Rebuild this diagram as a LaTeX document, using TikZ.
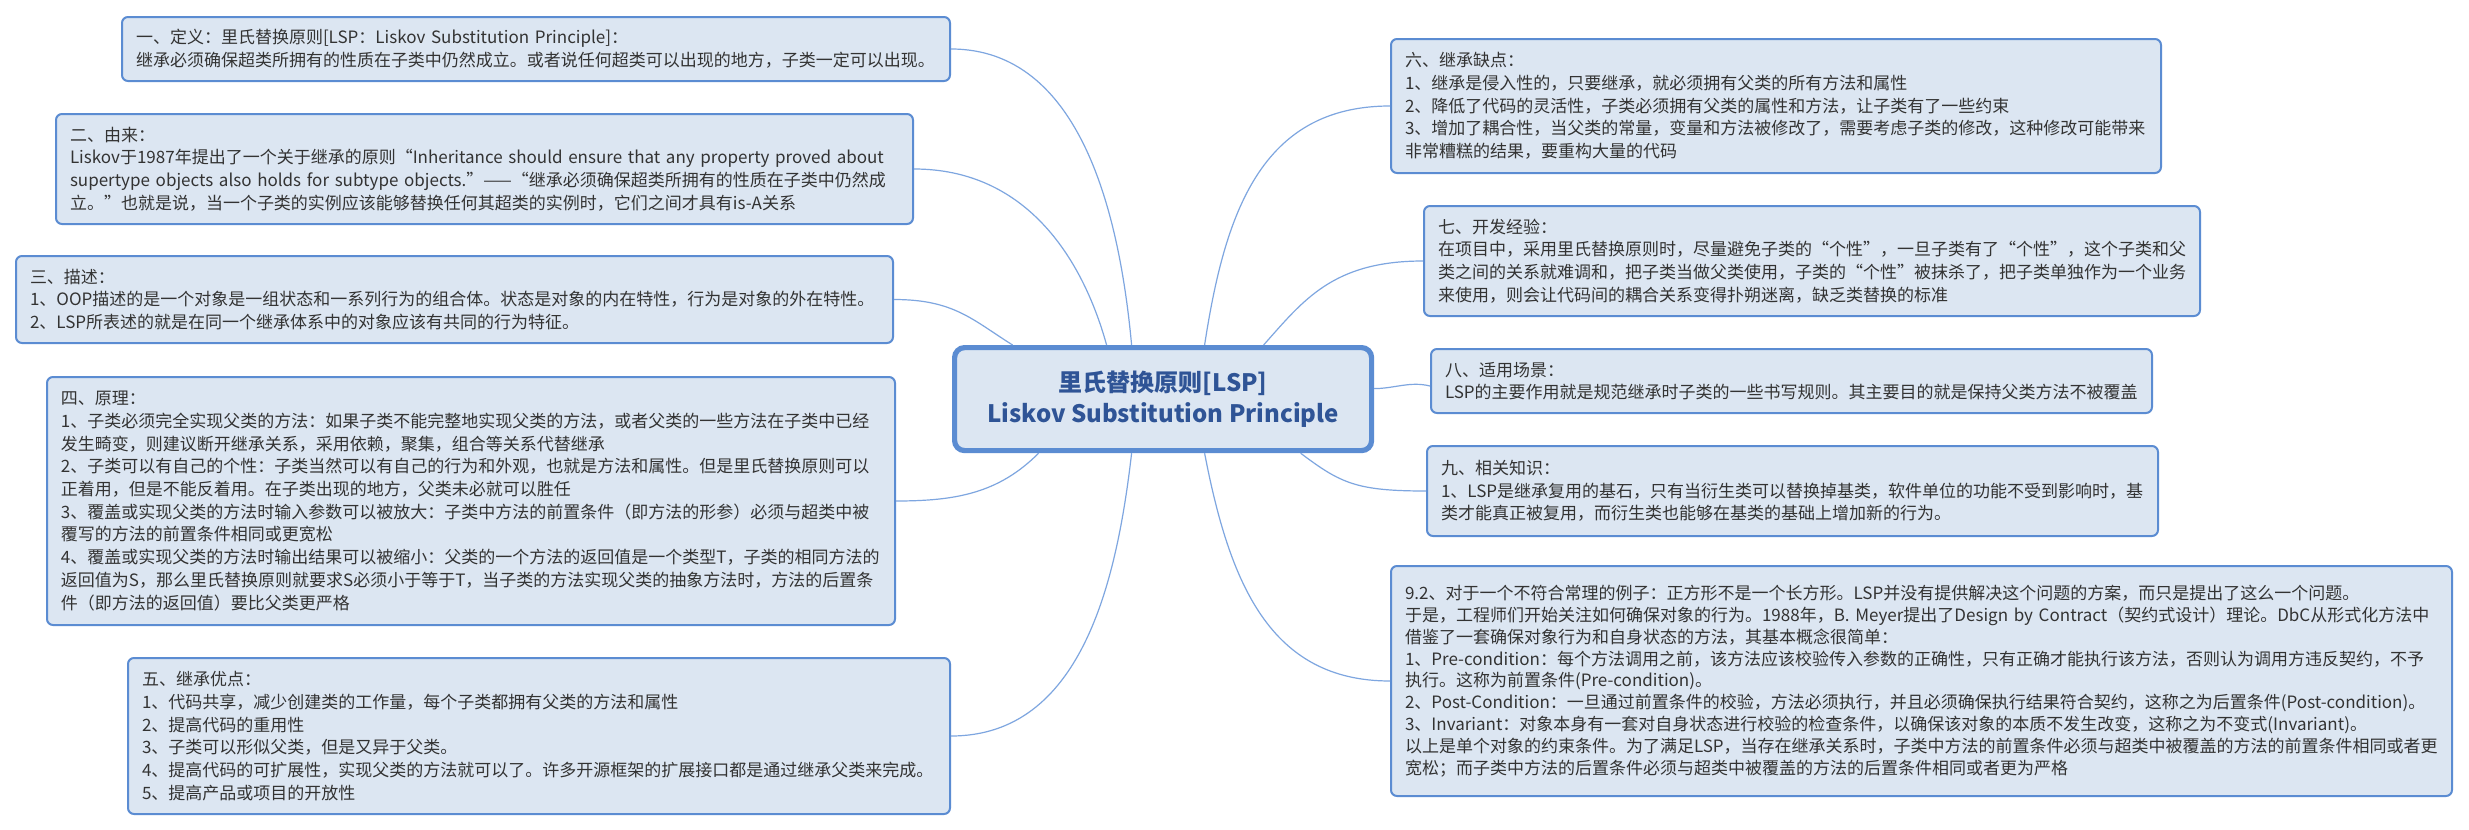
\documentclass[tikz,border=0pt]{standalone}
\usepackage{fontspec}
\setmainfont{Noto Sans CJK SC}
\usetikzlibrary{calc}
\definecolor{boxfill}{HTML}{DCE6F2}
\definecolor{boxline}{HTML}{5B8CD2}
\definecolor{conn}{HTML}{7EA6E0}
\definecolor{txt}{HTML}{333333}
\definecolor{ctxt}{HTML}{2F5496}
\begin{document}
\begin{tikzpicture}[x=0.5pt,y=-0.5pt,
  box/.style={draw=boxline, line width=1pt, fill=boxfill, rounded corners=3pt,
    inner xsep=7pt, inner ysep=0pt, align=left, text=txt, anchor=north west,
    font=\fontsize{8.5pt}{11.35pt}\selectfont},
  mainbox/.style={draw=boxline, line width=2.6pt, fill=boxfill, rounded corners=5pt,
    inner sep=0pt, align=center, text=ctxt, anchor=north west,
    font=\bfseries\fontsize{12pt}{15.5pt}\selectfont},
  link/.style={draw=conn, line width=0.6pt}]
\useasboundingbox (0,0) rectangle (2469,830);
\fill[white] (0,0) rectangle (2469,830);

\node[mainbox, minimum width=208.5pt, minimum height=51.5pt] (c) at (952,345)
  {里氏替换原则[LSP]\\Liskov Substitution Principle};

\node[box, minimum width=414pt, minimum height=32pt, text width=400pt] (b1) at (121,16)
  {一、定义：里氏替换原则[LSP：Liskov Substitution Principle]：\\
   继承必须确保超类所拥有的性质在子类中仍然成立。或者说任何超类可以出现的地方，子类一定可以出现。};

\node[box, minimum width=428.5pt, minimum height=55pt, text width=414.5pt] (b2) at (55,113)
  {二、由来：\\
   Liskov于1987年提出了一个关于继承的原则“Inheritance should ensure that any property proved about\\
   supertype objects also holds for subtype objects.”——“继承必须确保超类所拥有的性质在子类中仍然成\\
   立。”也就是说，当一个子类的实例应该能够替换任何其超类的实例时，它们之间才具有is-A关系};

\node[box, minimum width=438.5pt, minimum height=43.5pt, text width=424.5pt] (b3) at (15,255)
  {三、描述：\\
   1、OOP描述的是一个对象是一组状态和一系列行为的组合体。状态是对象的内在特性，行为是对象的外在特性。\\
   2、LSP所表述的就是在同一个继承体系中的对象应该有共同的行为特征。};

\node[box, minimum width=424pt, minimum height=124pt, text width=410pt] (b4) at (46,376)
  {四、原理：\\
   1、子类必须完全实现父类的方法：如果子类不能完整地实现父类的方法，或者父类的一些方法在子类中已经\\
   发生畸变，则建议断开继承关系，采用依赖，聚集，组合等关系代替继承\\
   2、子类可以有自己的个性：子类当然可以有自己的行为和外观，也就是方法和属性。但是里氏替换原则可以\\
   正着用，但是不能反着用。在子类出现的地方，父类未必就可以胜任\\
   3、覆盖或实现父类的方法时输入参数可以被放大：子类中方法的前置条件（即方法的形参）必须与超类中被\\
   覆写的方法的前置条件相同或更宽松\\
   4、覆盖或实现父类的方法时输出结果可以被缩小：父类的一个方法的返回值是一个类型T，子类的相同方法的\\
   返回值为S，那么里氏替换原则就要求S必须小于等于T，当子类的方法实现父类的抽象方法时，方法的后置条\\
   件（即方法的返回值）要比父类更严格};

\node[box, minimum width=411pt, minimum height=78pt, text width=397pt] (b5) at (127,657)
  {五、继承优点：\\
   1、代码共享，减少创建类的工作量，每个子类都拥有父类的方法和属性\\
   2、提高代码的重用性\\
   3、子类可以形似父类，但是又异于父类。\\
   4、提高代码的可扩展性，实现父类的方法就可以了。许多开源框架的扩展接口都是通过继承父类来完成。\\
   5、提高产品或项目的开放性};

\node[box, minimum width=385pt, minimum height=67pt, text width=371pt] (b6) at (1390,38)
  {六、继承缺点：\\
   1、继承是侵入性的，只要继承，就必须拥有父类的所有方法和属性\\
   2、降低了代码的灵活性，子类必须拥有父类的属性和方法，让子类有了一些约束\\
   3、增加了耦合性，当父类的常量，变量和方法被修改了，需要考虑子类的修改，这种修改可能带来\\
   非常糟糕的结果，要重构大量的代码};

\node[box, minimum width=388pt, minimum height=55pt, text width=374pt] (b7) at (1423,205)
  {七、开发经验：\\
   在项目中，采用里氏替换原则时，尽量避免子类的“个性”，一旦子类有了“个性”，这个子类和父\\
   类之间的关系就难调和，把子类当做父类使用，子类的“个性”被抹杀了，把子类单独作为一个业务\\
   来使用，则会让代码间的耦合关系变得扑朔迷离，缺乏类替换的标准};

\node[box, minimum width=360.5pt, minimum height=32pt, text width=346.5pt] (b8) at (1430,348)
  {八、适用场景：\\
   LSP的主要作用就是规范继承时子类的一些书写规则。其主要目的就是保持父类方法不被覆盖};

\node[box, minimum width=365.5pt, minimum height=45pt, text width=351.5pt] (b9) at (1426,445)
  {九、相关知识：\\
   1、LSP是继承复用的基石，只有当衍生类可以替换掉基类，软件单位的功能不受到影响时，基\\
   类才能真正被复用，而衍生类也能够在基类的基础上增加新的行为。};

\node[box, minimum width=530.5pt, minimum height=115pt, text width=516.5pt,
      font=\fontsize{8.5pt}{10.9pt}\selectfont] (b10) at (1390,565)
  {9.2、对于一个不符合常理的例子：正方形不是一个长方形。LSP并没有提供解决这个问题的方案，而只是提出了这么一个问题。\\
   于是，工程师们开始关注如何确保对象的行为。1988年，B. Meyer提出了Design by Contract（契约式设计）理论。DbC从形式化方法中\\
   借鉴了一套确保对象行为和自身状态的方法，其基本概念很简单：\\
   1、Pre-condition：每个方法调用之前，该方法应该校验传入参数的正确性，只有正确才能执行该方法，否则认为调用方违反契约，不予\\
   执行。这称为前置条件(Pre-condition)。\\
   2、Post-Condition：一旦通过前置条件的校验，方法必须执行，并且必须确保执行结果符合契约，这称之为后置条件(Post-condition)。\\
   3、Invariant：对象本身有一套对自身状态进行校验的检查条件，以确保该对象的本质不发生改变，这称之为不变式(Invariant)。\\
   以上是单个对象的约束条件。为了满足LSP，当存在继承关系时，子类中方法的前置条件必须与超类中被覆盖的方法的前置条件相同或者更\\
   宽松；而子类中方法的后置条件必须与超类中被覆盖的方法的后置条件相同或者更为严格};

% connector start points on the central node
\coordinate (s1) at ([xshift=-15.75pt]c.north);
\coordinate (s2) at ([xshift=-28.25pt]c.north);
\coordinate (s3) at ([xshift=-75.25pt]c.north);
\coordinate (s4) at ([xshift=-62.25pt]c.south);
\coordinate (s5) at ([xshift=-15.75pt]c.south);
\coordinate (s6) at ([xshift=20.75pt]c.north);
\coordinate (s7) at ([xshift=50.25pt]c.north);
\coordinate (s8) at ([yshift=5.25pt]c.east);
\coordinate (s9) at ([xshift=68.75pt]c.south);
\coordinate (s10) at ([xshift=20.75pt]c.south);

\begin{scope}[on background layer/.style={}]
\draw[link] (s1) .. controls ($(s1)+(-12,-130)$) and ($(b1.east)+(130,0)$) .. (b1.east);
\draw[link] (s2) .. controls ($(s2)+(-25,-90)$) and ($(b2.east)+(110,0)$) .. (b2.east);
\draw[link] (s3) .. controls ($(s3)+(-40,-25)$) and ($(b3.east)+(60,0)$) .. (b3.east);
\draw[link] (s4) .. controls ($(s4)+(-40,40)$) and ($(b4.east)+(60,0)$) .. (b4.east);
\draw[link] (s5) .. controls ($(s5)+(-15,130)$) and ($(b5.east)+(130,0)$) .. (b5.east);
\draw[link] (s6) .. controls ($(s6)+(20,-130)$) and ($(b6.west)+(-130,0)$) .. (b6.west);
\draw[link] (s7) .. controls ($(s7)+(40,-45)$) and ($(b7.west)+(-90,0)$) .. (b7.west);
\draw[link] (s8) .. controls ($(s8)+(20,0)$) and ($(b8.west)+(-20,0)$) .. ([yshift=-2.5pt]b8.west);
\draw[link] (s9) .. controls ($(s9)+(40,30)$) and ($(b9.west)+(-70,0)$) .. (b9.west);
\draw[link] (s10) .. controls ($(s10)+(25,130)$) and ($(b10.west)+(-120,0)$) .. (b10.west);
\end{scope}
\end{tikzpicture}
\end{document}
